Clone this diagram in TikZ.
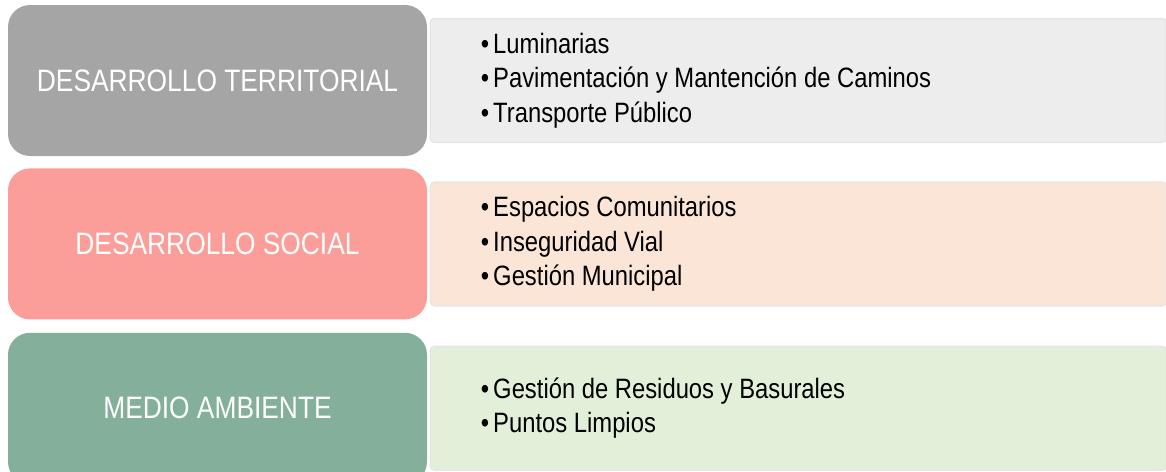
\documentclass[tikz,border=0pt]{standalone}
\usepackage{fontspec}
\setmainfont{Liberation Sans}[FakeStretch=0.85]
\usepackage{xcolor}
\usetikzlibrary{positioning}

\definecolor{terrgray}{HTML}{A5A5A5}
\definecolor{terrpanel}{HTML}{EDEDED}
\definecolor{socred}{HTML}{FB9D98}
\definecolor{socpanel}{HTML}{FBE5D6}
\definecolor{medgreen}{HTML}{84AF9B}
\definecolor{medpanel}{HTML}{E2EFD9}

\begin{document}
\begin{tikzpicture}[x=1pt, y=-1pt,
  area/.style={rectangle, rounded corners=22pt, text=white, minimum width=419pt, minimum height=151pt, inner sep=0pt, font=\fontsize{31}{36}\selectfont},
  panel/.style={rectangle, rounded corners=4pt, draw=black!10, line width=1.2pt, minimum width=736pt, minimum height=124pt, inner sep=0pt},
  items/.style={align=left, inner sep=0pt, font=\fontsize{28}{34.5}\selectfont}]
\useasboundingbox (0,0) rectangle (1166,471);
% left boxes
\node[area, fill=terrgray] (dt) at (217.5,80.5) {DESARROLLO TERRITORIAL};
\node[area, fill=socred, below=12pt of dt] (ds) {DESARROLLO SOCIAL};
\node[area, fill=medgreen, below=13pt of ds] (ma) {MEDIO AMBIENTE};
% right panels
\node[panel, fill=terrpanel, right=2.5pt of dt] (pdt) {};
\node[panel, fill=socpanel, right=2.5pt of ds] (pds) {};
\node[panel, fill=medpanel, right=2.5pt of ma] (pma) {};
\node[items, right=51pt of pdt.west] (ldt) {\textbullet\hspace{4pt}Luminarias\\ \textbullet\hspace{4pt}Pavimentación y Mantención de Caminos\\ \textbullet\hspace{4pt}Transporte Público};
\node[items, right=51pt of pds.west] (lds) {\textbullet\hspace{4pt}Espacios Comunitarios\\ \textbullet\hspace{4pt}Inseguridad Vial\\ \textbullet\hspace{4pt}Gestión Municipal};
\node[items, right=51pt of pma.west] (lma) {\textbullet\hspace{4pt}Gestión de Residuos y Basurales\\ \textbullet\hspace{4pt}Puntos Limpios};
\end{tikzpicture}
\end{document}
